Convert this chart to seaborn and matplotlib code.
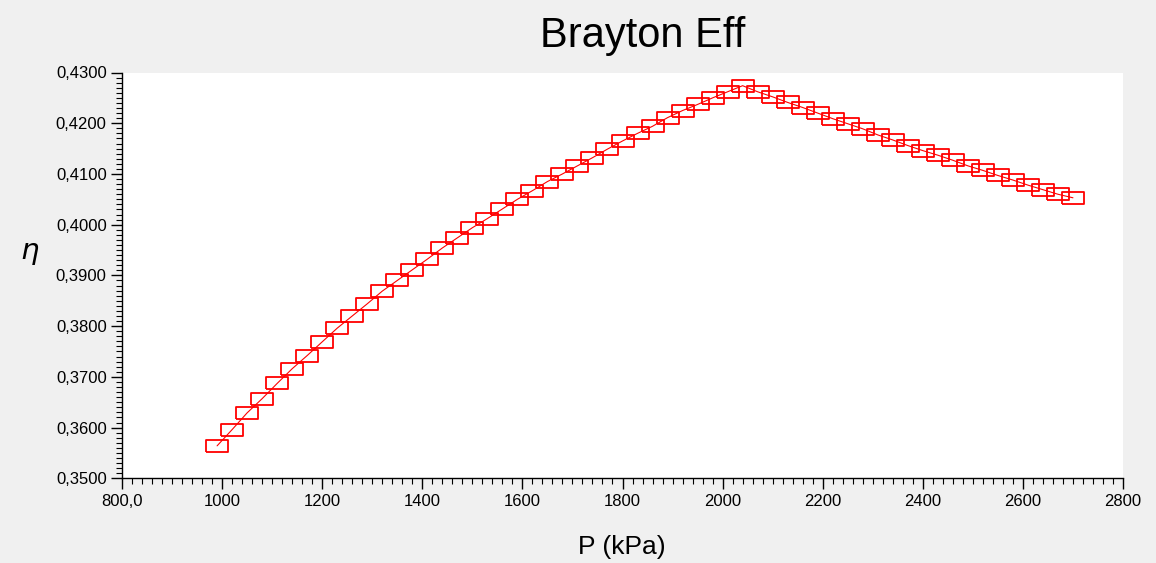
import pandas as pd
import seaborn as sns
import matplotlib.pyplot as plt
from matplotlib.ticker import MultipleLocator, FuncFormatter

# %% data
pressure = [990, 1020, 1050, 1080, 1110, 1140, 1170, 1200, 1230, 1260,
            1290, 1320, 1350, 1380, 1410, 1440, 1470, 1500, 1530, 1560,
            1590, 1620, 1650, 1680, 1710, 1740, 1770, 1800, 1830, 1860,
            1890, 1920, 1950, 1980, 2010, 2040, 2070, 2100, 2130, 2160,
            2190, 2220, 2250, 2280, 2310, 2340, 2370, 2400, 2430, 2460,
            2490, 2520, 2550, 2580, 2610, 2640, 2670, 2700]
efficiency = [0.3564, 0.3596, 0.3629, 0.3657, 0.3687, 0.3716, 0.3742, 0.3769, 0.3796, 0.3820,
              0.3844, 0.3869, 0.3890, 0.3911, 0.3932, 0.3954, 0.3974, 0.3994, 0.4012, 0.4031,
              0.4050, 0.4067, 0.4085, 0.4100, 0.4116, 0.4132, 0.4149, 0.4165, 0.4180, 0.4194,
              0.4211, 0.4225, 0.4237, 0.4250, 0.4262, 0.4274, 0.4262, 0.4252, 0.4241, 0.4231,
              0.4220, 0.4209, 0.4199, 0.4189, 0.4177, 0.4167, 0.4156, 0.4146, 0.4137, 0.4127,
              0.4116, 0.4107, 0.4097, 0.4088, 0.4078, 0.4069, 0.4060, 0.4053]

df = pd.DataFrame({'P': pressure, 'eta': efficiency})

# %% style
sns.set_theme(style='ticks')
plt.rcParams['font.family'] = ['Liberation Sans', 'DejaVu Sans']

bg = '#f0f0f0'
fig = plt.figure(figsize=(11.56, 5.63), dpi=100, facecolor=bg)
ax = fig.add_axes([122 / 1156, 1 - 478.3 / 563, 1001 / 1156, (478.3 - 72.5) / 563])
ax.set_facecolor('white')

# flat rectangle marker
rect = [(-1, -0.57), (1, -0.57), (1, 0.57), (-1, 0.57), (-1, -0.57)]
sns.lineplot(data=df, x='P', y='eta', ax=ax, color='red', linewidth=0.8,
             marker=rect, markersize=15.5, markerfacecolor='none',
             markeredgecolor='red', markeredgewidth=1.3, sort=False)

ax.set_xlim(800, 2800)
ax.set_ylim(0.35, 0.43)
ax.xaxis.set_major_locator(MultipleLocator(200))
ax.xaxis.set_minor_locator(MultipleLocator(20))
ax.yaxis.set_major_locator(MultipleLocator(0.01))
ax.yaxis.set_minor_locator(MultipleLocator(0.001))
ax.xaxis.set_major_formatter(FuncFormatter(
    lambda v, p: '800,0' if abs(v - 800) < 1e-6 else f'{v:.0f}'))
ax.yaxis.set_major_formatter(FuncFormatter(
    lambda v, p: f'{v:.4f}'.replace('.', ',')))

ax.tick_params(which='major', direction='out', length=8, width=1.0,
               color='black', labelsize=12, labelcolor='black', pad=3)
ax.tick_params(which='minor', direction='out', length=4.5, width=0.8, color='black')

for s in ['top', 'right']:
    ax.spines[s].set_visible(False)
for s in ['left', 'bottom']:
    ax.spines[s].set_color('black')
    ax.spines[s].set_linewidth(1.0)

ax.set_xlabel('')
ax.set_ylabel('')
fig.text(622 / 1156, 1 - 547 / 563, 'P (kPa)', ha='center', va='center',
         fontsize=19, color='black')
fig.text(30 / 1156, 1 - 253 / 563, r'$\eta$', ha='center', va='center',
         fontsize=21, color='black')
fig.text(643 / 1156, 1 - 36 / 563, 'Brayton Eff', ha='center', va='center',
         fontsize=30, color='black')

fig.savefig('out.png', dpi=100, facecolor=bg)
